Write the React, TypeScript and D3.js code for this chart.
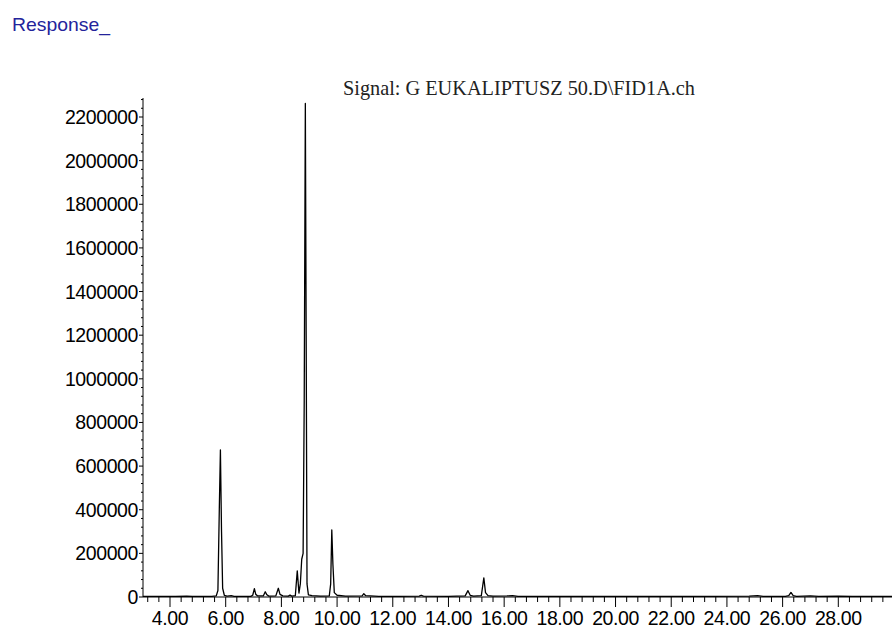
import React from "react";
import * as d3 from "d3";

// retention time (min) and detector response
const signalTime = [
  3.03, 3.5, 4.2, 4.6, 4.8, 5.5, 5.66, 5.72, 5.77, 5.81, 5.85, 5.89, 5.95, 6.05, 6.2, 6.3,
  6.9, 6.97, 7.03, 7.08, 7.15, 7.35, 7.42, 7.48, 7.55, 7.8, 7.89, 7.95, 8.05, 8.25, 8.31, 8.37,
  8.5, 8.57, 8.63, 8.68, 8.73, 8.78, 8.82, 8.86, 8.89, 8.92, 8.97, 9.1, 9.4, 9.72, 9.77, 9.81,
  9.85, 9.9, 10.0, 10.3, 10.9, 10.96, 11.03, 11.5, 12.2, 12.95, 13.02, 13.1, 14.0, 14.6, 14.7,
  14.78, 14.9, 15.18, 15.27, 15.33, 15.42, 15.6, 16.1, 16.3, 16.5, 18.0, 20.0, 22.0, 23.5, 24.8,
  25.1, 25.3, 26.1, 26.22, 26.3, 26.38, 26.5, 27.0, 27.3, 28.0, 28.5, 29.95,
];
const signalResponse = [
  3000, 2500, 3000, 4000, 2500, 3000, 5000, 30000, 400000, 674000, 300000, 40000, 8000, 4000, 6000, 3000,
  3000, 8000, 38000, 12000, 5000, 5000, 24000, 10000, 4000, 5000, 40000, 12000, 5000, 4000, 9000, 4000,
  6000, 120000, 18000, 60000, 173000, 200000, 900000, 2262000, 1200000, 60000, 10000, 6000, 4000, 5000, 60000, 307000,
  150000, 20000, 8000, 4000, 5000, 15000, 6000, 3000, 3000, 4000, 8000, 4000, 3000, 5000, 29000,
  8000, 4000, 6000, 88000, 20000, 6000, 4000, 5000, 6000, 3000, 3000, 2500, 3000, 3000, 4000,
  6000, 3000, 3000, 6000, 21000, 6000, 3000, 5000, 3000, 4000, 3000, 3000,
];

const xMajorTicks = [4, 6, 8, 10, 12, 14, 16, 18, 20, 22, 24, 26, 28];
const yMajorTicks = [0, 200000, 400000, 600000, 800000, 1000000, 1200000, 1400000, 1600000, 1800000, 2000000, 2200000];

const title = "Signal: G EUKALIPTUSZ 50.D\\FID1A.ch";
const yTitle = "Response_";

const width = 892;
const height = 631;

export default function App() {
  const x = d3.scaleLinear().domain([3.03, 30]).range([143, 894]);
  const y = d3.scaleLinear().domain([0, 2200000]).range([597, 117]);

  const points: [number, number][] = signalTime.map((t, i) => [t, signalResponse[i]]);
  const line = d3.line<[number, number]>().x(d => x(d[0])).y(d => y(d[1]));

  // minor ticks: 0.4 min on x, 40000 on y
  const xMinor = d3.range(3.2, 29.8, 0.4).filter(t => Math.abs(t / 2 - Math.round(t / 2)) > 0.01);
  const yMinor = d3.range(0, 2290000, 40000).filter(v => v % 200000 !== 0);
  const fmt = d3.format(".2f");

  const axisTop = y.invert(98);

  return (
    <svg width={width} height={height} style={{ position: "absolute", left: 0, top: 0, background: "#fff" }}>
      <text x={12} y={31} fontFamily="Liberation Sans, Arial, sans-serif" fontSize={19}
        fill="#23239b" textLength={98} lengthAdjust="spacingAndGlyphs">{yTitle}</text>

      <text x={343} y={95} fontFamily="Liberation Serif, Times New Roman, serif" fontSize={21}
        fill="#222" textLength={352} lengthAdjust="spacingAndGlyphs">{title}</text>

      {/* y axis */}
      <line x1={143} x2={143} y1={y(axisTop)} y2={y(0)} stroke="#000" strokeWidth={1} />
      {yMajorTicks.map(v => (
        <g key={v}>
          <line x1={139} x2={143} y1={y(v)} y2={y(v)} stroke="#000" />
          <text x={138} y={y(v)} dy="0.36em" textAnchor="end" fontFamily="Liberation Sans, Arial, sans-serif"
            fontSize={19.5} fill="#000" letterSpacing={-0.4}>{v}</text>
        </g>
      ))}
      {yMinor.map(v => (
        <line key={v} x1={141} x2={143} y1={y(v)} y2={y(v)} stroke="#000" />
      ))}

      {/* x axis */}
      <line x1={143} x2={width} y1={y(0)} y2={y(0)} stroke="#000" strokeWidth={1} />
      {xMinor.map(t => (
        <line key={t} x1={x(t)} x2={x(t)} y1={y(0)} y2={y(0) + 5} stroke="#000" />
      ))}
      {xMajorTicks.map(t => (
        <g key={t}>
          <line x1={x(t)} x2={x(t)} y1={y(0)} y2={y(0) + 10} stroke="#000" />
          <text x={x(t)} y={625} textAnchor="middle" fontFamily="Liberation Sans, Arial, sans-serif"
            fontSize={19.5} fill="#000" letterSpacing={-0.4}>{fmt(t)}</text>
        </g>
      ))}

      <path d={line(points) ?? ""} fill="none" stroke="#000" strokeWidth={1.3} strokeLinejoin="round" />
    </svg>
  );
}
